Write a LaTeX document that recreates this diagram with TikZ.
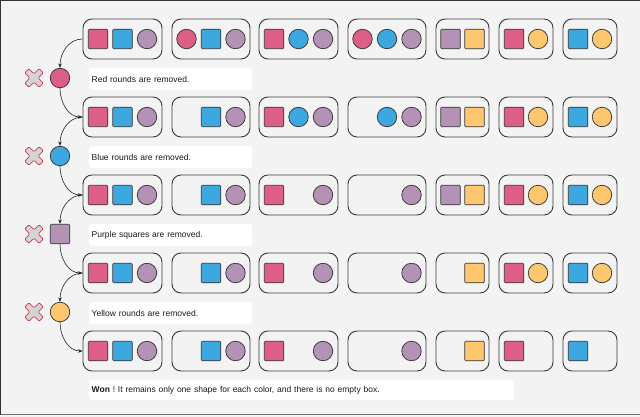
\documentclass[tikz,border=0pt]{standalone}
\usepackage{fontspec}
\setmainfont{Liberation Sans}
\usetikzlibrary{arrows.meta}
\frenchspacing

\definecolor{sred}{HTML}{DE5F86}
\definecolor{sblue}{HTML}{3DA8DF}
\definecolor{spurple}{HTML}{B492B6}
\definecolor{syellow}{HTML}{FFC670}
\definecolor{bgfill}{HTML}{F3F3F3}
\definecolor{trayline}{HTML}{3A3A3A}
\definecolor{pieceline}{HTML}{333333}
\definecolor{xred}{HTML}{D33B52}
\definecolor{xgray}{HTML}{D4D4D4}

\tikzset{
  tray/.style={draw=trayline, line width=0.9pt, rounded corners=9pt, minimum height=40pt, inner sep=0pt},
  piece/.style={draw=pieceline, line width=0.7pt, minimum size=19.5pt, inner sep=0pt},
  Rs/.style={piece, fill=sred, rounded corners=1pt},
  Bs/.style={piece, fill=sblue, rounded corners=1pt},
  Ps/.style={piece, fill=spurple, rounded corners=1pt},
  Ys/.style={piece, fill=syellow, rounded corners=1pt},
  Rc/.style={piece, circle, fill=sred},
  Bc/.style={piece, circle, fill=sblue},
  Pc/.style={piece, circle, fill=spurple},
  Yc/.style={piece, circle, fill=syellow},
  note/.style={fill=white, rounded corners=3pt, anchor=west, minimum height=22pt, inner xsep=2.5pt,
    text width=158pt, align=left, text=black!90, font=\fontsize{8.5}{10}\selectfont},
  flow/.style={-{Stealth[length=4.5pt,width=3.5pt]}, line width=0.6pt, draw=black!85},
  nix/.pic={
    \draw[draw=xred, fill=xgray, line width=0.8pt, rounded corners=1.2pt, rotate=45]
      (2.9,2.9) -- (2.9,10.2) -- (-2.9,10.2) -- (-2.9,2.9) -- (-10.2,2.9) -- (-10.2,-2.9)
      -- (-2.9,-2.9) -- (-2.9,-10.2) -- (2.9,-10.2) -- (2.9,-2.9) -- (10.2,-2.9) -- (10.2,2.9) -- cycle;
  }
}

\begin{document}
\begin{tikzpicture}[x=1pt, y=-1pt]
  \useasboundingbox (0,0) rectangle (640,417);
  \fill[bgfill] (0,0) rectangle (640,417);
  \draw[black!80, line width=1.4pt] (0.7,414.5) -- (0.7,0.7) -- (640,0.7);
  \draw[black!55, line width=1pt] (0.7,414.5) -- (640,414.5);

  % boxes, one row per step
  \foreach \r/\y in {1/39,2/117,3/195,4/273,5/351}
    \foreach \bx/\bw [count=\i] in {122.5/79,211/78,298.5/79,387/78,462.5/53,526/54,590/54}
      \node[tray, minimum width=\bw pt] (r\r b\i) at (\bx,\y) {};

  % shapes in the boxes
  \foreach \px/\pk [count=\i] in {98/Rs,122.5/Bs,147/Pc,186.5/Rc,211/Bs,235.5/Pc,274/Rs,298.5/Bc,323/Pc,
      362.5/Rc,387/Bc,411.5/Pc,450.5/Ps,474.5/Ys,514/Rs,538/Yc,578/Bs,602/Yc}
    \node[\pk] (r1s\i) at (\px,39) {};
  \foreach \px/\pk [count=\i] in {98/Rs,122.5/Bs,147/Pc,211/Bs,235.5/Pc,274/Rs,298.5/Bc,323/Pc,
      387/Bc,411.5/Pc,450.5/Ps,474.5/Ys,514/Rs,538/Yc,578/Bs,602/Yc}
    \node[\pk] (r2s\i) at (\px,117) {};
  \foreach \px/\pk [count=\i] in {98/Rs,122.5/Bs,147/Pc,211/Bs,235.5/Pc,274/Rs,323/Pc,
      411.5/Pc,450.5/Ps,474.5/Ys,514/Rs,538/Yc,578/Bs,602/Yc}
    \node[\pk] (r3s\i) at (\px,195) {};
  \foreach \px/\pk [count=\i] in {98/Rs,122.5/Bs,147/Pc,211/Bs,235.5/Pc,274/Rs,323/Pc,
      411.5/Pc,474.5/Ys,514/Rs,538/Yc,578/Bs,602/Yc}
    \node[\pk] (r4s\i) at (\px,273) {};
  \foreach \px/\pk [count=\i] in {98/Rs,122.5/Bs,147/Pc,211/Bs,235.5/Pc,274/Rs,323/Pc,
      411.5/Pc,474.5/Ys,514/Rs,578/Bs}
    \node[\pk] (r5s\i) at (\px,351) {};

  % removed shapes
  \node[Rc] (op1) at (60,78) {};
  \node[Bc] (op2) at (60,156) {};
  \node[Ps] (op3) at (60,234) {};
  \node[Yc] (op4) at (60,312) {};

  \pic (x1) at (34,78) {nix};
  \pic (x2) at (34,156) {nix};
  \pic (x3) at (34,234) {nix};
  \pic (x4) at (34,312) {nix};

  \node[note] (t1) at (89,79) {Red rounds are removed.};
  \node[note] (t2) at (89,157) {Blue rounds are removed.};
  \node[note] (t3) at (89,235) {Purple squares are removed.};
  \node[note] (t4) at (89,313) {Yellow rounds are removed.};
  \node[note, minimum height=20pt, text width=420pt] (t5) at (89,390)
    {\textbf{Won} ! It remains only one shape for each color, and there is no empty box.};

  \foreach \k [evaluate=\k as \n using int(\k+1)] in {1,2,3,4} {
    \draw[flow] (r\k b1.west) to[out=180, in=90] (op\k.north);
    \draw[flow] (op\k.south) to[out=270, in=180] (r\n b1.west);
  }
\end{tikzpicture}
\end{document}
